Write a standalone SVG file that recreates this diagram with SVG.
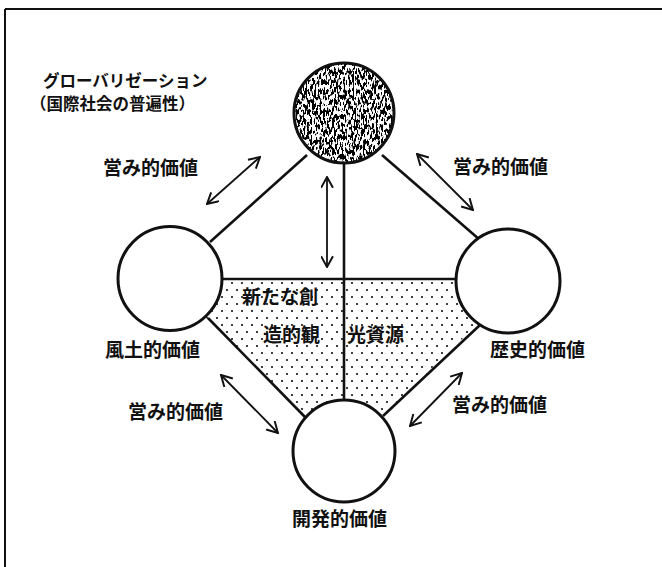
<svg xmlns="http://www.w3.org/2000/svg" width="662" height="567" viewBox="0 0 662 567">
<style>
.t{font-family:"Noto Sans CJK JP","Noto Sans CJK SC",sans-serif;font-weight:700;fill:#111;font-size:19px}
.s{font-size:16.5px}
.node{fill:#fff;stroke:#111;stroke-width:3}
.ln{stroke:#111;stroke-width:2.6;fill:none}
.ar{stroke:#111;stroke-width:1.8;fill:none;marker-start:url(#ah);marker-end:url(#ah)}
</style>
<defs>
<marker id="ah" viewBox="0 0 12 12" refX="11" refY="6" markerWidth="13" markerHeight="13" markerUnits="userSpaceOnUse" orient="auto-start-reverse">
<path d="M1,0.5 L11,6 L1,11.5" fill="none" stroke="#111" stroke-width="1.8"/>
</marker>
<pattern id="dots" width="10" height="14" patternUnits="userSpaceOnUse">
<circle cx="2" cy="3" r="1.1" fill="#111"/>
<circle cx="7" cy="10" r="1.1" fill="#111"/>
</pattern>
<filter id="grain" x="0" y="0" width="1" height="1" color-interpolation-filters="sRGB">
<feTurbulence type="fractalNoise" baseFrequency="0.55 0.2" numOctaves="2" seed="11"/>
<feColorMatrix type="matrix" values="0 0 0 0 0  0 0 0 0 0  0 0 0 0 0  -16 0 0 0 8.3"/>
</filter>
<clipPath id="topclip"><circle cx="344" cy="113" r="50"/></clipPath>
</defs>
<rect width="662" height="567" fill="#fff"/>
<g id="frame" stroke="#111" stroke-width="2">
<line x1="5" y1="9" x2="662" y2="9"/>
<line x1="5" y1="9" x2="5" y2="567"/>
</g>
<g id="region">
<polygon points="170,279 508,279 502,300 344,454 188,300" fill="url(#dots)"/>
</g>
<g id="connectors">
<line class="ln" x1="307" y1="155" x2="210" y2="242"/>
<line class="ln" x1="382" y1="155" x2="480" y2="240"/>
<line class="ln" x1="344" y1="160" x2="344" y2="402"/>
<line class="ln" x1="218" y1="279" x2="460" y2="279"/>
<line class="ln" x1="208" y1="318" x2="305" y2="417"/>
<line class="ln" x1="480" y1="325" x2="383" y2="416"/>
<line class="ar" x1="207" y1="204" x2="260" y2="157"/>
<line class="ar" x1="327" y1="177" x2="327" y2="267"/>
<line class="ar" x1="417" y1="154" x2="473" y2="210"/>
<line class="ar" x1="221" y1="375" x2="278" y2="433"/>
<line class="ar" x1="462" y1="373" x2="410" y2="426"/>
</g>
<g id="n-top">
<g clip-path="url(#topclip)"><rect x="294" y="63" width="100" height="100" fill="#fff"/><rect x="294" y="63" width="100" height="100" filter="url(#grain)"/></g>
<circle cx="344" cy="113" r="50" fill="none" stroke="#111" stroke-width="3"/>
</g>
<g id="n-left"><circle class="node" cx="170" cy="278.5" r="52"/></g>
<g id="n-right"><circle class="node" cx="508" cy="281" r="52"/></g>
<g id="n-bottom"><circle class="node" cx="344" cy="451" r="51"/></g>
<g id="labels">
<text class="t s" x="43" y="87">グローバリゼーション</text>
<text class="t s" x="30" y="110">（国際社会の普遍性）</text>
<text class="t" x="103" y="175">営み的価値</text>
<text class="t" x="453" y="174">営み的価値</text>
<text class="t" x="105" y="357">風土的価値</text>
<text class="t" x="490" y="357">歴史的価値</text>
<text class="t" x="242" y="304">新たな創</text>
<text class="t" x="263" y="342">造的観</text>
<text class="t" x="347" y="342">光資源</text>
<text class="t" x="128" y="419">営み的価値</text>
<text class="t" x="452" y="412">営み的価値</text>
<text class="t" x="292" y="526">開発的価値</text>
</g>
</svg>
